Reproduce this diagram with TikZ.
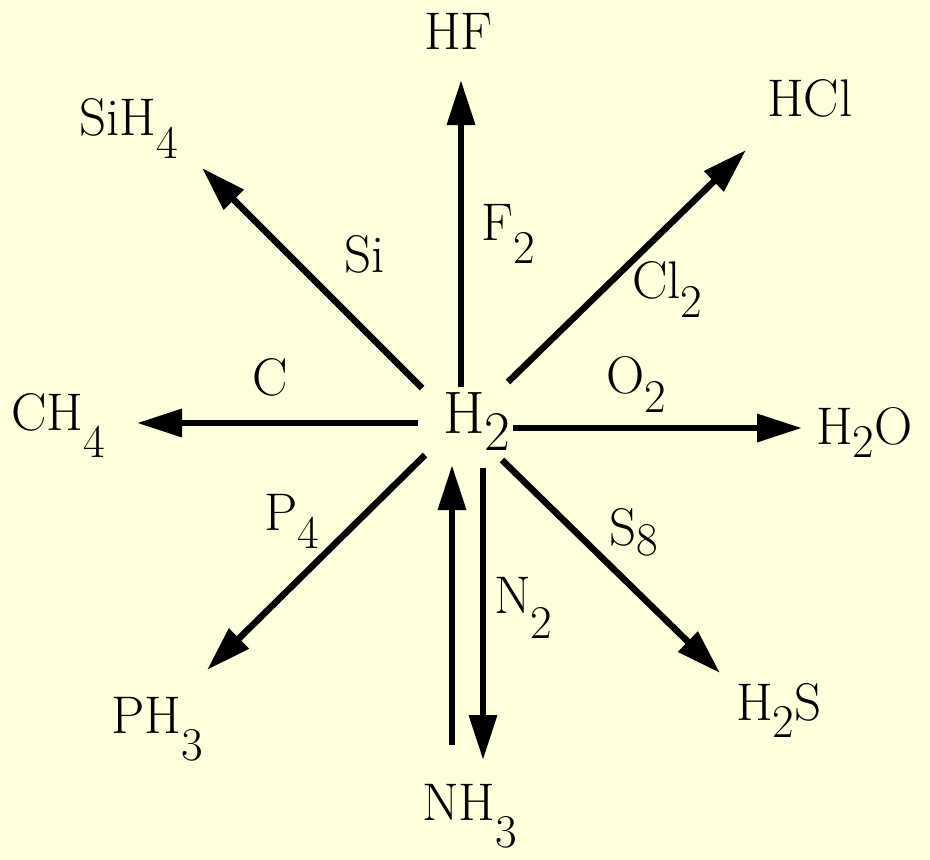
\documentclass[tikz,border=0pt]{standalone}
\usepackage{fontspec}
\usetikzlibrary{arrows.meta}

\definecolor{sfondo}{HTML}{FFFFDD}

% formula text and lowered subscript
\newcommand{\chem}{\fontsize{53}{60}\selectfont}
\newcommand{\sbs}[2][20pt]{\raisebox{-#1}{\fontsize{47}{47}\selectfont #2}}

\begin{document}
\begin{tikzpicture}[x=1pt, y=-1pt,
    arr/.style={-{Triangle[length=45pt, width=27pt]}, line width=6.5pt},
    lab/.style={anchor=base west, inner sep=0pt, font=\chem}]

    % background
    \fill[sfondo] (0,0) rectangle (930,860);
    \useasboundingbox (0,0) rectangle (930,860);

    % centre
    \node[lab, font=\fontsize{60}{66}\selectfont] (h2) at (443,433)
        {H\raisebox{-17pt}{\fontsize{56}{56}\selectfont 2}};

    % products
    \node[lab] (hf)   at (424,49)  {HF};
    \node[lab] (hcl)  at (767,116) {HCl};
    \node[lab] (sih4) at (79,135)  {SiH\sbs[23pt]{4}};
    \node[lab] (ch4)  at (11,430)  {CH\sbs[27pt]{4}};
    \node[lab] (h2o)  at (816,444) {H\sbs[13pt]{2}O};
    \node[lab] (ph3)  at (111,733) {PH\sbs[27pt]{3}};
    \node[lab] (h2s)  at (736,720) {H\sbs[17pt]{2}S};
    \node[lab] (nh3)  at (422,820) {NH\sbs[27pt]{3}};

    % reagents
    \node[lab] (si)  at (344,272) {Si};
    \node[lab] (f2)  at (481,240) {F\sbs[23pt]{2}};
    \node[lab] (cl2) at (632,298) {Cl\sbs[19pt]{2}};
    \node[lab] (c)   at (252,395) {C};
    \node[lab] (o2)  at (606,393) {O\sbs[19pt]{2}};
    \node[lab] (p4)  at (264,530) {P\sbs[18pt]{4}};
    \node[lab] (s8)  at (609,545) {S\sbs[10pt]{8}};
    \node[lab] (n2)  at (494,613) {N\sbs[25pt]{2}};

    % arrow ends
    \coordinate (s-hf)   at (461,387); \coordinate (t-hf)   at (461,80);
    \coordinate (s-sih4) at (422,388); \coordinate (t-sih4) at (202,168);
    \coordinate (s-hcl)  at (508,382); \coordinate (t-hcl)  at (746,150);
    \coordinate (s-ch4)  at (418,423); \coordinate (t-ch4)  at (137,423);
    \coordinate (s-h2o)  at (513,428); \coordinate (t-h2o)  at (802,428);
    \coordinate (s-ph3)  at (425,455); \coordinate (t-ph3)  at (207,670);
    \coordinate (s-h2s)  at (502,460); \coordinate (t-h2s)  at (720,673);
    \coordinate (s-nh3)  at (452,745); \coordinate (t-nh3)  at (452,465);
    \coordinate (s-n2)   at (483,468); \coordinate (t-n2)   at (483,760);

    % reactions
    \draw[arr] (s-hf) -- (t-hf);
    \draw[arr] (s-sih4) -- (t-sih4);
    \draw[arr] (s-hcl) -- (t-hcl);
    \draw[arr] (s-ch4) -- (t-ch4);
    \draw[arr] (s-h2o) -- (t-h2o);
    \draw[arr] (s-ph3) -- (t-ph3);
    \draw[arr] (s-h2s) -- (t-h2s);

    % ammonia, both ways
    \draw[arr] (s-nh3) -- (t-nh3);
    \draw[arr] (s-n2) -- (t-n2);

\end{tikzpicture}
\end{document}
